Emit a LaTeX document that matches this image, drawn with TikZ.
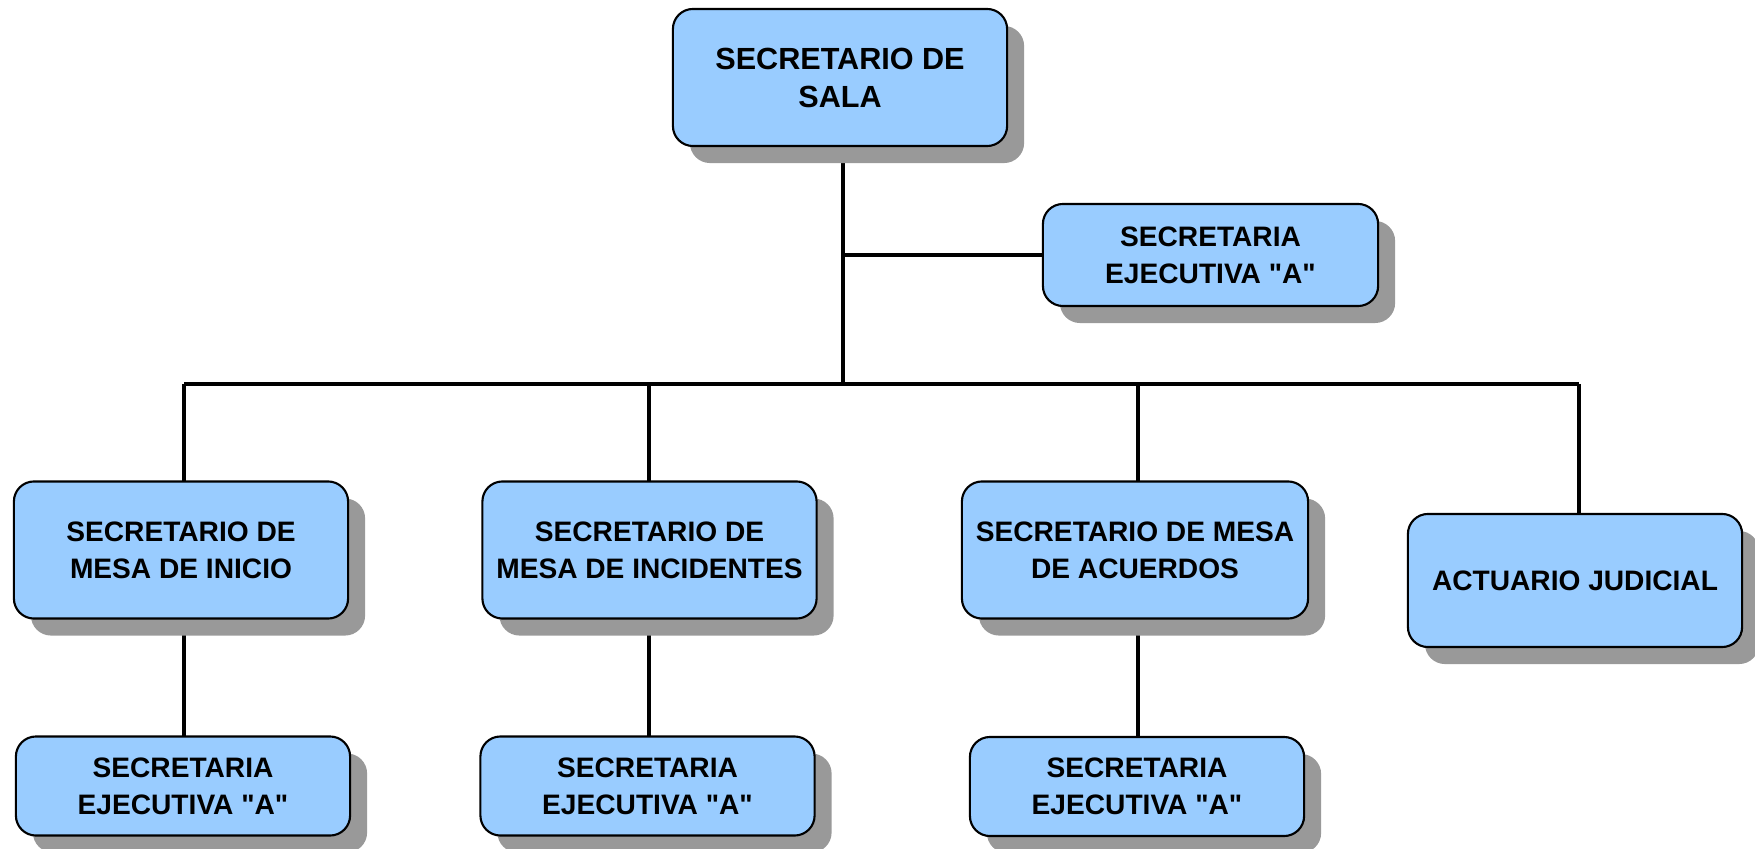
\documentclass[tikz,border=0pt]{standalone}
\usepackage{fontspec}
\setmainfont{Liberation Sans}[Ligatures=TeXOff]
\usetikzlibrary{shadows,backgrounds}
\definecolor{boxblue}{HTML}{99CCFF}
\definecolor{shadowgray}{HTML}{999999}

\tikzset{
  puesto/.style={draw=black, line width=0.6pt, fill=boxblue, rounded corners=0.2cm,
    minimum width=3.34cm, minimum height=1.37cm, align=center, inner sep=0pt,
    font=\fontsize{8}{10.45}\selectfont\bfseries,
    drop shadow={shadow xshift=0.17cm, shadow yshift=-0.17cm, fill=shadowgray, opacity=1}},
  linea/.style={line width=1.15pt}
}

\begin{document}
\begin{tikzpicture}[x=0.01cm, y=-0.01cm]

	\useasboundingbox (0,0) rectangle (1755,849);

	% Top node definitions.
	\node[puesto, font=\fontsize{8.7}{10.8}\selectfont\bfseries] (sala) at (840,77.5) {SECRETARIO DE\\SALA};
	\node[puesto, minimum height=1.02cm, minimum width=3.35cm] (ejec_sala) at (1210.5,255) {SECRETARIA\\EJECUTIVA "A"};

	% Middle node definitions.
	\node[puesto]                       (inicio) at  (181,550) {SECRETARIO DE\\MESA DE INICIO};
	\node[puesto]                   (incidentes) at (649.5,550) {SECRETARIO DE\\MESA DE INCIDENTES};
	\node[puesto, minimum width=3.46cm] (acuerdos) at (1135,550) {SECRETARIO DE MESA\\DE ACUERDOS};
	\node[puesto, minimum height=1.33cm] (actuario) at (1575,580.5) {ACTUARIO JUDICIAL};

	% Bottom node definitions.
	\node[puesto, minimum height=0.99cm]  (ejec_inicio) at  (183,786) {SECRETARIA\\EJECUTIVA "A"};
	\node[puesto, minimum height=0.99cm]   (ejec_incid) at (647.5,786) {SECRETARIA\\EJECUTIVA "A"};
	\node[puesto, minimum height=0.99cm]   (ejec_acuer) at (1137,786.5) {SECRETARIA\\EJECUTIVA "A"};

	% Drop points on the bus.
	\coordinate          (bus) at  (843,384);
	\coordinate   (bus_inicio) at  (184,384);
	\coordinate    (bus_incid) at  (649,384);
	\coordinate    (bus_acuer) at (1138,384);
	\coordinate (bus_actuario) at (1579,384);

	% Lines.
	\begin{pgfonlayer}{background}
	\draw[linea]        (sala |- bus) -- (bus);
	\draw[linea] (bus |- sala.south) -- (bus);
	\draw[linea]  (bus |- ejec_sala) -- (ejec_sala);
	\draw[linea]        (bus_inicio) -- (bus_actuario);
	\draw[linea]        (bus_inicio) -- (bus_inicio |- ejec_inicio);
	\draw[linea]         (bus_incid) -- (bus_incid |- ejec_incid);
	\draw[linea]         (bus_acuer) -- (bus_acuer |- ejec_acuer);
	\draw[linea]      (bus_actuario) -- (bus_actuario |- actuario);
	\end{pgfonlayer}

\end{tikzpicture}
\end{document}
